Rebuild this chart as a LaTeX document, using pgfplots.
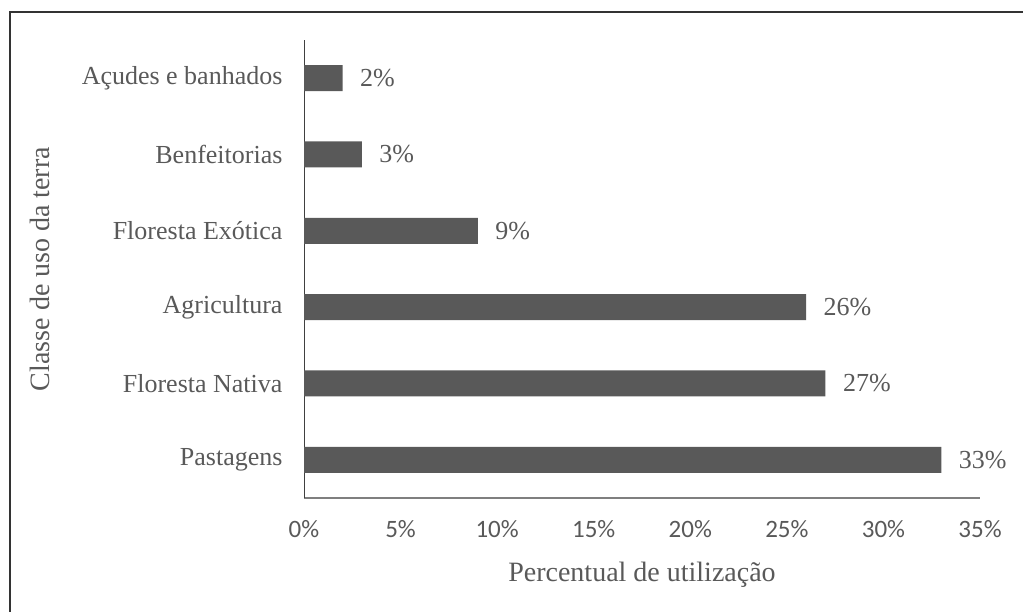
\documentclass[border=0pt]{standalone}
\usepackage{pgfplots}
\pgfplotsset{compat=1.18}
\usepackage{fontspec}
\setmainfont{Liberation Serif}
\newfontfamily\calibri{Carlito}
\definecolor{barc}{HTML}{595959}
\definecolor{txt}{HTML}{595959}
\definecolor{axc}{HTML}{7F7F7F}
\begin{document}
\begin{tikzpicture}
\useasboundingbox (0,0) rectangle (1023pt,612pt);
\draw[black!80, line width=1.3pt] (10pt,0) -- (10pt,600pt) -- (1023pt,600pt);
\begin{axis}[
  at={(304pt,114pt)}, anchor=south west,
  scale only axis, width=676pt, height=458pt,
  /pgf/number format/assume math mode=true,
  xbar, bar width=26pt,
  xmin=0, xmax=35, ymin=-0.5, ymax=5.5,
  axis x line*=bottom, axis y line*=left,
  x axis line style={axc, line width=1.2pt, -},
  y axis line style={black!75, line width=0.9pt, -},
  xtick={0,5,10,15,20,25,30,35},
  xticklabels={0\%,5\%,10\%,15\%,20\%,25\%,30\%,35\%},
  x tick label style={font=\calibri\fontsize{25}{25}\selectfont, text=txt, yshift=-19pt},
  ytick={0,1,2,3,4,5},
  yticklabels={Pastagens,Floresta Nativa,Agricultura,Floresta Exótica,Benfeitorias,Açudes e banhados},
  y tick label style={font=\fontsize{26}{26}\selectfont, text=txt, xshift=-18pt},
  major tick length=0pt,
  xlabel={Percentual de utilização},
  ylabel={Classe de uso da terra},
  xlabel style={at={(axis description cs:0.5,-0.168)}, anchor=center, font=\fontsize{28}{28}\selectfont, text=txt},
  ylabel style={at={(axis description cs:-0.3905,0.5)}, anchor=center, rotate=0, font=\fontsize{28}{28}\selectfont, text=txt},
  nodes near coords={\pgfmathprintnumber{\pgfplotspointmeta}\%},
  point meta=x,
  nodes near coords style={anchor=west, xshift=14pt, font=\fontsize{26}{26}\selectfont, text=txt},
]
\addplot[fill=barc, draw=none] coordinates {(33,0) (27,1) (26,2) (9,3) (3,4) (2,5)};
\end{axis}
\end{tikzpicture}
\end{document}
